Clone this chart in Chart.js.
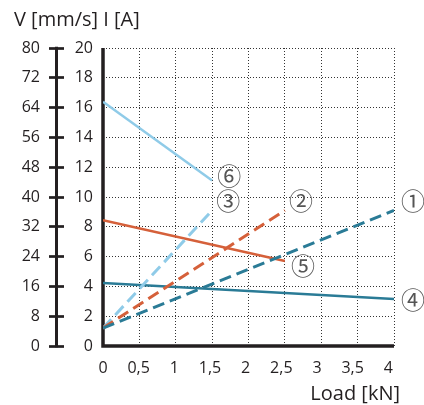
<!DOCTYPE html>
<html>
<head>
<meta charset="utf-8">
<script src="https://cdn.jsdelivr.net/npm/chart.js@4/dist/chart.umd.min.js"></script>
<style>
  body { margin: 0; background: #fff; }
</style>
</head>
<body>
<canvas id="chart" width="424" height="405"></canvas>
<script>
// ===== Data =====
const loadTicks = [0, 0.5, 1, 1.5, 2, 2.5, 3, 3.5, 4];
const speedTicks = [0, 8, 16, 24, 32, 40, 48, 56, 64, 72, 80];
const currentTicks = [0, 2, 4, 6, 8, 10, 12, 14, 16, 18, 20];

// load ranges of each curve [kN]
const loadCurve1 = [0, 4];
const loadCurve2 = [0, 2.5];
const loadCurve3 = [0, 1.5];
const loadCurve4 = [0, 4];
const loadCurve5 = [0, 2.5];
const loadCurve6 = [0, 1.5];

// current I [A] (dashed)
const current1 = [1.2, 9.1];
const current2 = [1.2, 9.1];
const current3 = [1.2, 9.1];
// speed V [mm/s] (solid)
const speed4 = [16.9, 12.6];
const speed5 = [33.8, 22.8];
const speed6 = [65.6, 44.4];

const curveLabels = ["①", "②", "③", "④", "⑤", "⑥"];

const TEAL = "#2a7b96";
const ORANGE = "#d5603a";
const SKY = "#8fcbe8";
const INK = "#231f20";

const pts = (xs, ys) => xs.map((x, i) => ({ x: x, y: ys[i] }));

// label offsets from the end point of each curve (px)
const labelOffsets = [[19, -10], [16, -10], [16, -10], [19, 1], [18, 5], [17, -5]];

const dashed = (data, color, tag) => ({
    label: tag, data: data, yAxisID: "yI",
    borderColor: color, borderWidth: 3, borderDash: [12, 6],
    pointRadius: 0, fill: false
});
const solid = (data, color, tag) => ({
    label: tag, data: data, yAxisID: "yV",
    borderColor: color, borderWidth: 2.5,
    pointRadius: 0, fill: false
});

// ===== solid axis lines: plot L-frame and the V axis with cross ticks =====
const axisLines = {
    id: "axisLines",
    beforeDatasetsDraw(chart) {
        const a = chart.chartArea;
        const ctx = chart.ctx;
        ctx.save();
        ctx.strokeStyle = INK;
        ctx.lineWidth = 3.5;
        ctx.beginPath();
        ctx.moveTo(a.left, a.top);
        ctx.lineTo(a.left, a.bottom);
        ctx.lineTo(a.right, a.bottom);
        ctx.stroke();

        const s = chart.scales.yV;
        const x = s.right - 7.5;
        ctx.lineWidth = 3;
        ctx.beginPath();
        ctx.moveTo(x, s.getPixelForValue(speedTicks[speedTicks.length - 1]) - 1.3);
        ctx.lineTo(x, s.getPixelForValue(speedTicks[0]) + 1.3);
        ctx.stroke();
        ctx.restore();
    }
};

// ===== circled numbers at the end of each curve =====
const curveTags = {
    id: "curveTags",
    afterDatasetsDraw(chart) {
        const ctx = chart.ctx;
        ctx.save();
        ctx.font = "24px 'Noto Sans CJK JP'";
        ctx.fillStyle = "#555";
        ctx.textAlign = "center";
        ctx.textBaseline = "middle";
        chart.data.datasets.forEach((ds, i) => {
            const meta = chart.getDatasetMeta(i);
            const last = meta.data[meta.data.length - 1];
            const off = labelOffsets[curveLabels.indexOf(ds.label)];
            ctx.fillText(ds.label, last.x + off[0], last.y + off[1]);
        });
        ctx.restore();
    }
};

const gridDots = { color: "#333", lineWidth: 1, drawTicks: false };
const fmt = v => String(v).replace(".", ",");
const tickFont = { family: "'Open Sans'", size: 16 };

new Chart(document.getElementById("chart"), {
    type: "line",
    data: {
        datasets: [
            dashed(pts(loadCurve1, current1), TEAL, curveLabels[0]),
            dashed(pts(loadCurve2, current2), ORANGE, curveLabels[1]),
            dashed(pts(loadCurve3, current3), SKY, curveLabels[2]),
            solid(pts(loadCurve4, speed4), TEAL, curveLabels[3]),
            solid(pts(loadCurve5, speed5), ORANGE, curveLabels[4]),
            solid(pts(loadCurve6, speed6), SKY, curveLabels[5])
        ]
    },
    options: {
        responsive: false,
        animation: false,
        layout: { padding: { left: 14, right: 24, top: 0, bottom: 0 } },
        plugins: {
            legend: { display: false },
            tooltip: { enabled: false },
            title: {
                display: true,
                text: "V [mm/s] I [A]",
                align: "start",
                color: INK,
                font: { family: "'Open Sans'", size: 20, weight: "normal" },
                padding: { top: 8, bottom: 16 }
            },
            subtitle: {
                display: true,
                position: "bottom",
                text: "Load [kN]",
                align: "end",
                color: INK,
                font: { family: "'Open Sans'", size: 20, weight: "normal" },
                padding: { top: 0, bottom: -1 }
            }
        },
        scales: {
            x: {
                type: "linear", position: "bottom", weight: 0,
                min: loadTicks[0], max: loadTicks[loadTicks.length - 1],
                afterBuildTicks: s => { s.ticks = loadTicks.map(v => ({ value: v })); },
                ticks: { display: false },
                grid: gridDots,
                border: { display: false, dash: [1, 2] },
                afterFit: s => { s.height = 0; }
            },
            xl: {
                type: "linear", position: "bottom", weight: 1,
                min: 0, max: 4.08,
                afterBuildTicks: s => { s.ticks = loadTicks.map(v => ({ value: v })); },
                ticks: {
                    color: INK, padding: 13, font: tickFont,
                    maxRotation: 0, autoSkip: false,
                    callback: v => fmt(v)
                },
                grid: { display: false, drawTicks: false },
                border: { display: false },
                afterFit: s => { s.height = 36; }
            },
            yI: {
                type: "linear", position: "left", weight: 0,
                min: 0, max: 20,
                afterBuildTicks: s => { s.ticks = currentTicks.map(v => ({ value: v })); },
                ticks: { color: INK, padding: 10, font: tickFont },
                grid: gridDots,
                border: { display: false, dash: [1, 2] },
                afterFit: s => { s.width = 39; }
            },
            yV: {
                type: "linear", position: "left", weight: 1,
                min: 0, max: 80,
                afterBuildTicks: s => { s.ticks = speedTicks.map(v => ({ value: v })); },
                ticks: { color: INK, padding: 9, font: tickFont },
                grid: {
                    display: true, drawOnChartArea: false, drawTicks: true,
                    tickLength: 15, tickWidth: 2.7, tickColor: INK, tickBorderDash: []
                },
                border: { display: false },
                afterFit: s => { s.width = 50; }
            },
            yR: {
                type: "linear", position: "right", min: 0, max: 1,
                ticks: { display: false },
                grid: { display: false, drawTicks: false },
                border: { display: false },
                afterFit: s => { s.width = 6; }
            }
        }
    },
    plugins: [axisLines, curveTags]
});
</script>
</body>
</html>
